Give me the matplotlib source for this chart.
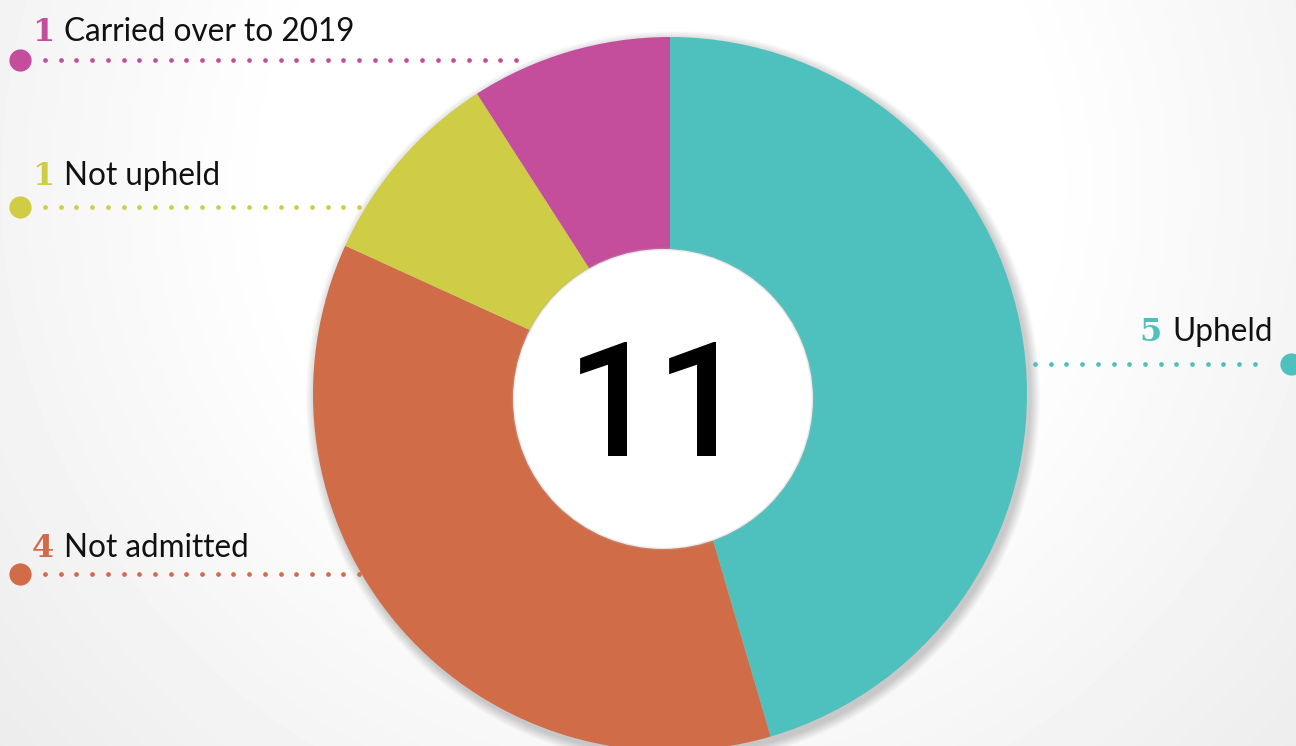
import matplotlib.pyplot as plt
import numpy as np
from matplotlib.patches import Circle

# data
labels = ['Upheld', 'Not admitted', 'Not upheld', 'Carried over to 2019']
counts = [5, 4, 1, 1]
colors = ['#4ec1be', '#d06c47', '#cfcd45', '#c44e9c']
total = sum(counts)

W, H = 1296, 746
fig = plt.figure(figsize=(W / 100, H / 100), dpi=100)
ax = fig.add_axes([0, 0, 1, 1])

# soft grey radial background
yy, xx = np.mgrid[0:H, 0:W]
d = np.hypot(xx - 660, yy - 560)
bg = 1 - 0.08 * np.clip((d - 380) / 520, 0, 1)
ax.imshow(bg, cmap='gray', vmin=0, vmax=1, extent=[0, W, H, 0], zorder=0)

# donut geometry (pixel coords, y measured from the bottom)
cx, cy, R = 670, H - 394, 357
hx, hy, r_in = 663, H - 399, 150

# drop shadow behind the ring
for k in range(10):
    ax.add_patch(Circle((cx + 3, cy - 4), R + 10 - k, color='black',
                        alpha=0.018, lw=0, zorder=1))

wedges, _ = ax.pie(counts, colors=colors, startangle=90, counterclock=False,
                   center=(cx, cy), radius=R, frame=True,
                   wedgeprops=dict(linewidth=0))
for w in wedges:
    w.set_zorder(2)

# hole with a faint edge
ax.add_patch(Circle((hx, hy), r_in, color='white', lw=0, zorder=4))
ax.add_patch(Circle((hx, hy), r_in, fill=False, ec='#b0b0b0', lw=2,
                    alpha=0.25, zorder=4))

# two digits placed separately to keep the wide spacing of the original
for i, ch in enumerate(str(total)):
    ax.text(612 + i * 89, H - 412, ch, ha='center', va='center', fontsize=115,
            fontweight='medium', family='Roboto', color='black', zorder=5)

# label layout: (text x, baseline y, line y, dots from, dots to, big dot x)
layout = {
    'Carried over to 2019': (64, 41, 60, 45, 522, 20),
    'Not upheld': (64, 185, 207, 45, 364, 20),
    'Not admitted': (64, 557, 574, 45, 362, 20),
    'Upheld': (1172, 341, 364, 1035, 1268, 1291),
}

for lab, n, col in zip(labels, counts, colors):
    tx, by, ly, d0, d1, bx = layout[lab]
    ax.text(tx - 10, H - by, str(n), ha='right', va='baseline', fontsize=23,
            fontweight='bold', family='DejaVu Serif', color=col, zorder=6)
    ax.text(tx, H - by, lab, ha='left', va='baseline', fontsize=22.7,
            family='Lato', color='#111111', zorder=6)
    xs = np.arange(d0, d1, 15.7)
    ax.plot(xs, np.full_like(xs, H - ly), ls='none', marker='o', ms=3.4,
            color=col, mew=0, zorder=6)
    ax.plot([bx], [H - ly], marker='o', ms=16, color=col, mew=0, zorder=6)

ax.set_xlim(0, W)
ax.set_ylim(0, H)
ax.set_aspect('auto')
ax.axis('off')

fig.savefig('out.png', dpi=100)
